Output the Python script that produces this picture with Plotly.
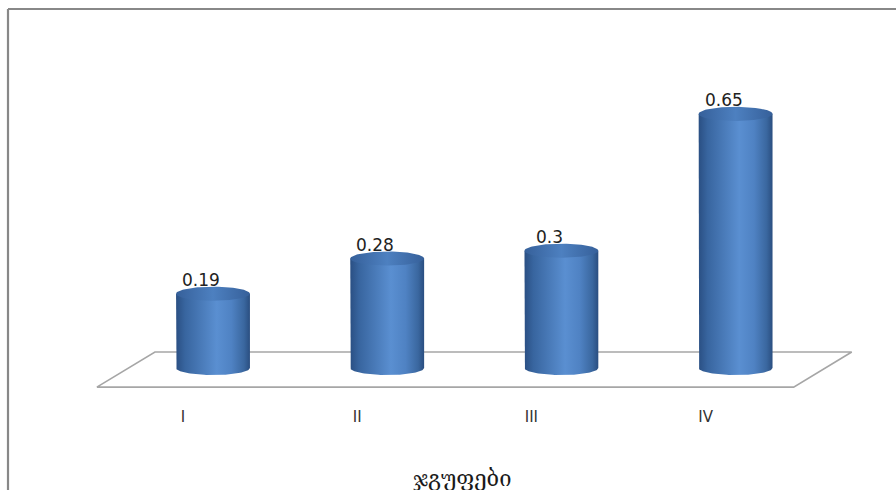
import numpy as np
import plotly.graph_objects as go

# Data
categories = ["I", "II", "III", "IV"]
values = [0.19, 0.28, 0.3, 0.65]
axis_title = "ჯგუფები"

# Cylinder styling (axis units)
half_w = 0.212        # cylinder radius along x
cap_ry = 0.018        # top ellipse vertical semi-axis
base_ry = 0.018       # bottom ellipse vertical semi-axis
body_scale = [[0.0, "#2a4f83"], [0.12, "#38659f"], [0.55, "#5a8fd1"],
              [0.75, "#4f82c3"], [0.92, "#3a679f"], [1.0, "#2a4e80"]]
cap_scale = [[0.0, "#36609a"], [0.5, "#4d80c0"], [1.0, "#36609a"]]

fig = go.Figure()

# Floor of the 3D plot area
n = len(categories)
floor_back, floor_front = 0.041, -0.049
fx = [-2 / 3, n - 1 + 1 / 3, n - 1 + 2 / 3, -1 / 3, -2 / 3]
fy = [floor_front, floor_front, floor_back, floor_back, floor_front]
fig.add_trace(go.Scatter(x=fx, y=fy, mode="lines",
                         line=dict(color="#a6a6a6", width=1.6),
                         hoverinfo="skip", showlegend=False))

t_front = np.linspace(np.pi, 2 * np.pi, 60)
t_full = np.linspace(0, 2 * np.pi, 120)

for i, v in enumerate(values):
    # body: sides plus the front half of the base ellipse
    bx = np.concatenate([[i - half_w],
                         i + half_w * np.cos(t_front),
                         [i + half_w, i - half_w]])
    by = np.concatenate([[v],
                         0 + base_ry * np.sin(t_front),
                         [v, v]])
    fig.add_trace(go.Scatter(x=bx, y=by, mode="lines", line=dict(width=0),
                             fill="toself",
                             fillgradient=dict(type="horizontal", colorscale=body_scale),
                             hoverinfo="skip", showlegend=False))
    # top cap
    cx = i + half_w * np.cos(t_full)
    cy = v + cap_ry * np.sin(t_full)
    fig.add_trace(go.Scatter(x=cx, y=cy, mode="lines", line=dict(width=0),
                             fill="toself",
                             fillgradient=dict(type="horizontal", colorscale=cap_scale),
                             hoverinfo="skip", showlegend=False))
    fig.add_annotation(x=i, y=v, text=f"{v:g}", showarrow=False,
                       xanchor="center", yanchor="middle",
                       xshift=-12, yshift=14,
                       font=dict(family="DejaVu Sans", size=17, color="#222222"))

fig.add_annotation(xref="paper", yref="paper", x=0.5167, y=-0.195,
                   text=axis_title, showarrow=False,
                   xanchor="center", yanchor="middle",
                   font=dict(family="DejaVu Serif", size=22, color="#1a1a1a"))

# Chart frame (left and top edges)
fig.add_shape(type="line", xref="paper", yref="paper",
              x0=8 / 896, x1=8 / 896, y0=-0.3, y1=0.9775,
              line=dict(color="#888888", width=2.2))
fig.add_shape(type="line", xref="paper", yref="paper",
              x0=8 / 896, x1=1.02, y0=0.9775, y1=0.9775,
              line=dict(color="#888888", width=2.2))

fig.update_xaxes(range=[-1.2227, 3.9208], tickvals=list(range(n)),
                 ticktext=categories, showgrid=False, zeroline=False,
                 showline=False, ticks="", ticklabelshift=-30,
                 ticklabelstandoff=6,
                 tickfont=dict(family="DejaVu Sans", size=15, color="#333333"))
fig.update_yaxes(range=[-0.0818, 0.9412], visible=False)

fig.update_layout(width=896, height=490,
                  margin=dict(l=0, r=0, t=0, b=90),
                  paper_bgcolor="white", plot_bgcolor="white",
                  showlegend=False)

fig.write_html("out.html")
